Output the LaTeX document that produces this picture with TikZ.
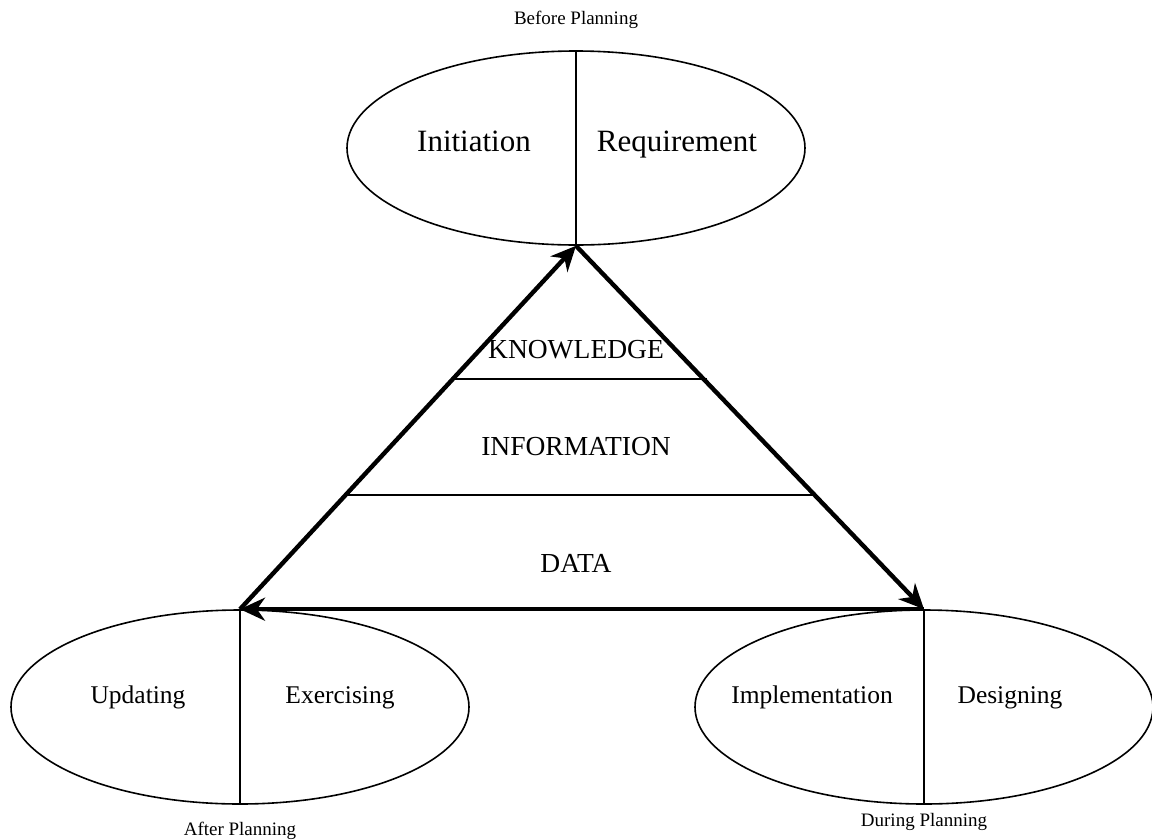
\documentclass[tikz,border=0pt]{standalone}
\usepackage{fontspec}
\setmainfont{Liberation Serif}
\usetikzlibrary{shapes.geometric,arrows.meta}

\tikzset{
  phase/.style={draw, ellipse, line width=1.6pt, minimum width=458pt, minimum height=194pt, inner sep=0pt},
  flow/.style={line width=4.4pt, -{Stealth[length=25pt,width=23pt,inset=8pt]}},
  divider/.style={line width=1.6pt},
  biglabel/.style={anchor=base, font=\fontsize{31}{36}\selectfont},
  steplabel/.style={anchor=base, font=\fontsize{25.5}{30}\selectfont},
  layerlabel/.style={anchor=base, font=\fontsize{27.5}{32}\selectfont},
  whenlabel/.style={anchor=base, font=\fontsize{19}{23}\selectfont},
}

\begin{document}
\begin{tikzpicture}[x=1pt,y=-1pt]
    \useasboundingbox (0,0) rectangle (1152,839);

    % the three planning phases
    \node[phase] (before) at (576,148) {};
    \node[phase] (after) at (240,707) {};
    \node[phase] (during) at (924,707) {};

    % split each phase in two
    \draw[divider] (before.north) -- (before.south);
    \draw[divider] (after.north) -- (after.south);
    \draw[divider] (during.north) -- (during.south);

    % phase texts
    \node[biglabel] (initiation) at (474,151) {Initiation};
    \node[biglabel] (requirement) at (677,151) {Requirement};
    \node[steplabel] (updating) at (138,703) {Updating};
    \node[steplabel] (exercising) at (340,703) {Exercising};
    \node[steplabel] (implementation) at (812,703) {Implementation};
    \node[steplabel] (designing) at (1010,703) {Designing};

    \node[whenlabel] (beforetxt) at (576,24) {Before Planning};
    \node[whenlabel] (aftertxt) at (240,835) {After Planning};
    \node[whenlabel] (duringtxt) at (924,826) {During Planning};

    % the cycle
    \draw[flow] (after.north) -- (before.south);
    \draw[flow] (before.south) -- (during.north);
    \draw[flow] (during.north) -- (after.north);

    % layers inside the triangle
    \path (after.north) -- (before.south) coordinate[pos=0.634] (kl) coordinate[pos=0.314] (il);
    \path (during.north) -- (before.south) coordinate[pos=0.634] (kr) coordinate[pos=0.314] (ir);
    \draw[divider] (kl) -- ([xshift=4pt]kr);
    \draw[divider] (il) -- (ir);

    \node[layerlabel] (knowledge) at (576,358) {KNOWLEDGE};
    \node[layerlabel] (information) at (576,455) {INFORMATION};
    \node[layerlabel] (data) at (576,572) {DATA};
\end{tikzpicture}
\end{document}
